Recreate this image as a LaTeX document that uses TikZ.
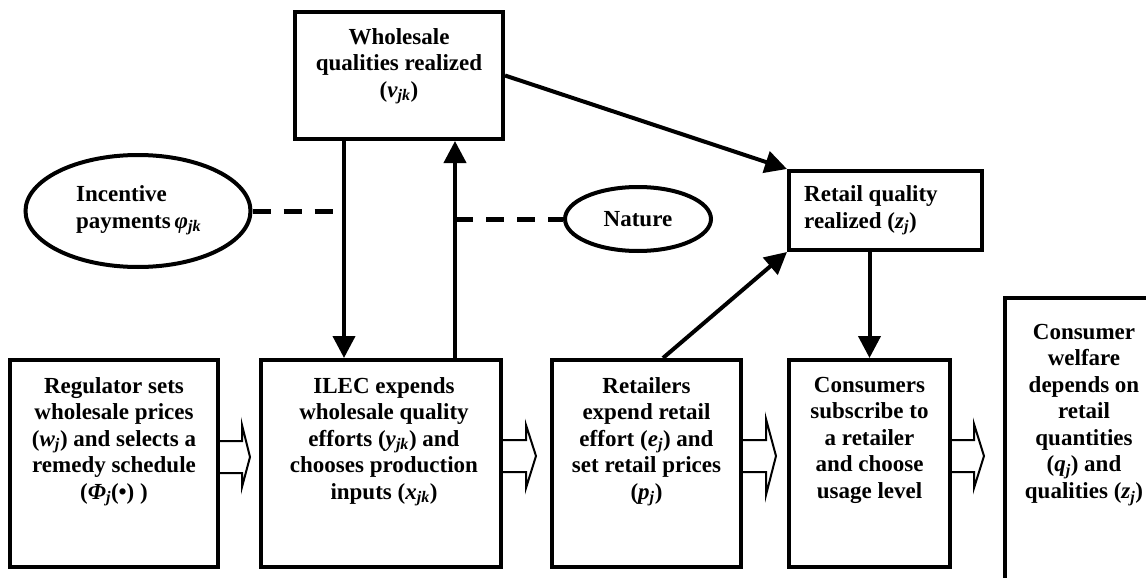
\documentclass[tikz,border=0pt]{standalone}
\usepackage{fontspec}
\setmainfont{Liberation Serif}
\usetikzlibrary{arrows.meta,shapes.geometric}
\newcommand{\vs}[2]{\textit{#1}\textsubscript{\textit{#2}}}
\begin{document}
\begin{tikzpicture}[x=1pt,y=-1pt,
  box/.style={draw,line width=4pt,rectangle,inner sep=0pt},
  txt/.style={inner sep=0pt,font=\fontsize{23}{26.5}\selectfont\bfseries,align=center},
  ltxt/.style={inner sep=0pt,font=\fontsize{23}{27}\selectfont\bfseries,align=left},
  ell/.style={draw,line width=4pt,ellipse,inner sep=0pt},
  arr/.style={line width=4pt,-{Triangle[length=22pt,width=22pt]}},
  dsh/.style={line width=5pt,dash pattern=on 18pt off 13pt},
  blk/.style={draw,line width=2pt,fill=white,line join=miter}]
\clip (0,0) rectangle (1146,578);
\fill[white] (0,0) rectangle (1146,578);

% top row
\node[box,minimum width=208pt,minimum height=127pt] (whole) at (399,75.5) {};
\node[txt,anchor=north] (wholet) at ([yshift=-18pt]whole.north) {Wholesale\\qualities realized\\(\vs{v}{jk})};

\node[ell,minimum width=225pt,minimum height=112pt] (inc) at (138,211) {};
\node[ltxt,anchor=north west] (inct) at (76,185) {Incentive\\payments\,\vs{φ}{jk}};

\node[ell,minimum width=146pt,minimum height=64pt] (nat) at (638,219) {};
\node[txt] (natt) at (nat.center) {Nature};

\node[box,minimum width=193pt,minimum height=79pt] (retq) at (885.5,210.5) {};
\node[ltxt,anchor=north west] (retqt) at ([xshift=17pt,yshift=-16pt]retq.north west) {Retail quality\\realized (\vs{z}{j})};

% bottom row
\node[box,minimum width=208pt,minimum height=207pt] (reg) at (114,463.5) {};
\node[txt,anchor=north] (regt) at ([yshift=-19pt]reg.north) {Regulator sets\\wholesale prices\\(\vs{w}{j}) and selects a\\remedy schedule\\(\vs{Φ}{j}(•) )};

\node[box,minimum width=240pt,minimum height=207pt] (ilec) at (381,463.5) {};
\node[txt,anchor=north] (ilect) at ([xshift=3pt,yshift=-19pt]ilec.north) {ILEC expends\\wholesale quality\\efforts (\vs{y}{jk}) and\\chooses production\\inputs (\vs{x}{jk})};

\node[box,minimum width=189pt,minimum height=207pt] (retl) at (646.5,463.5) {};
\node[txt,anchor=north] (retlt) at ([yshift=-19pt]retl.north) {Retailers\\expend retail\\effort (\vs{e}{j}) and\\set retail prices\\(\vs{p}{j})};

\node[box,minimum width=161pt,minimum height=207pt] (cons) at (869.5,463.5) {};
\node[txt,anchor=north] (const) at ([yshift=-19pt]cons.north) {Consumers\\subscribe to\\a retailer\\and choose\\usage level};

\node[box,minimum width=160pt,minimum height=320pt] (welf) at (1085,458) {};
\node[txt,anchor=north] (welft) at (1084,324) {Consumer\\welfare\\depends on\\retail\\quantities\\(\vs{q}{j}) and\\qualities (\vs{z}{j})};

% connectors
\coordinate (dn) at (344,0);
\coordinate (up) at (455,0);
\draw[arr] (whole.south -| dn) -- (ilec.north -| dn);
\draw[arr] (ilec.north -| up) -- (whole.south -| up);
\draw[arr] (whole.east) -- (retq.north west);
\draw[arr] ([xshift=16.5pt]retl.north) -- (retq.south west);
\draw[arr] (cons.north |- retq.south) -- (cons.north);

\draw[dsh] (inc.east) -- (inc.east -| dn);
\draw[dsh] (nat.west -| up) -- (nat.west);

% block arrows
\draw[blk] (reg.east |- 0,441) -- (242,441) -- (242,425) -- (250,457) -- (242,487) -- (242,473) -- (reg.east |- 0,473);
\draw[blk] (ilec.east |- 0,440) -- (526,440) -- (526,425) -- (536,456) -- (526,488) -- (526,472) -- (ilec.east |- 0,472);
\draw[blk] (retl.east |- 0,440) -- (766,440) -- (766,419) -- (776,456) -- (766,495) -- (766,472) -- (retl.east |- 0,472);
\draw[blk] (cons.east |- 0,440) -- (974,440) -- (974,424) -- (984,456) -- (974,488) -- (974,472) -- (cons.east |- 0,472);
\end{tikzpicture}
\end{document}
